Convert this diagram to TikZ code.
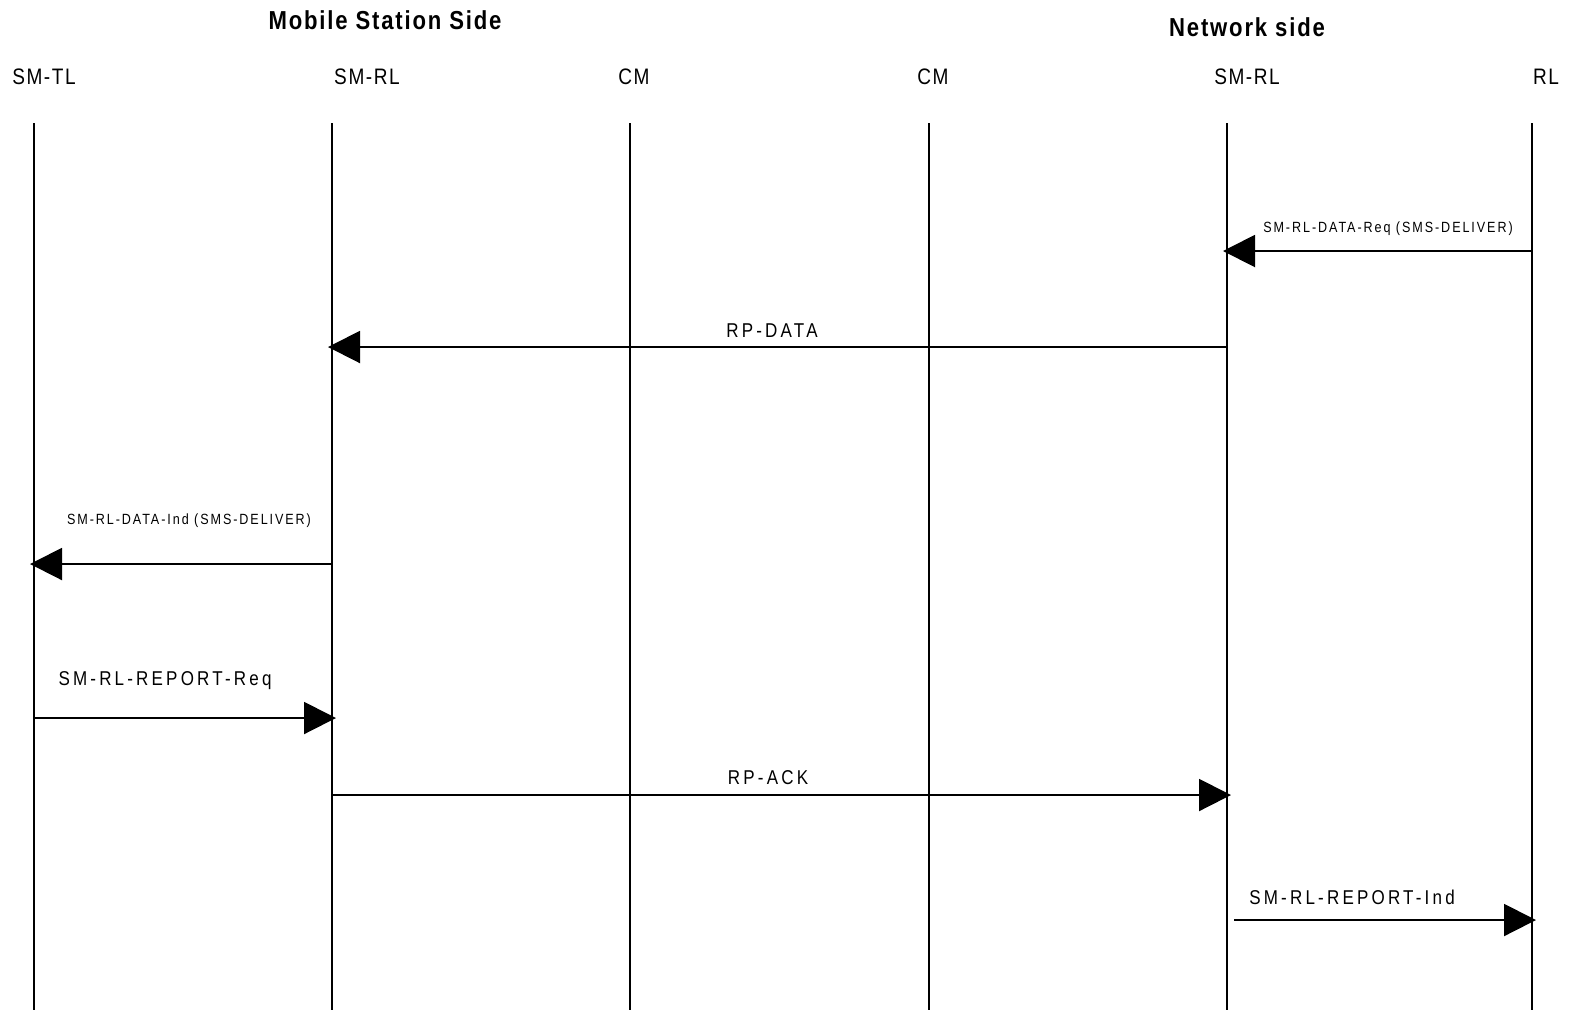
\documentclass[tikz,border=0pt]{standalone}
\usepackage{fontspec}
\setmainfont{Liberation Sans}
\newfontfamily\narrowfont[FakeStretch=0.85,LetterSpace=7]{Liberation Sans}
\newfontfamily\widefont[FakeStretch=0.85,LetterSpace=16]{Liberation Sans}
\newfontfamily\smallfont[FakeStretch=0.85,LetterSpace=13]{Liberation Sans}
\usetikzlibrary{arrows.meta}
\begin{document}
\begin{tikzpicture}[x=0.5pt,y=-0.5pt,
  life/.style={line width=1pt},
  msg/.style={line width=1pt,-{Triangle[length=16pt,width=16pt]},shorten >=-2pt},
  hdr/.style={font=\narrowfont\fontsize{11.2}{13}\selectfont,inner sep=0pt},
  lbl/.style={font=\widefont\fontsize{10}{12}\selectfont,inner sep=0pt},
  small/.style={font=\smallfont\fontsize{7.4}{9}\selectfont,inner sep=0pt},
  title/.style={font=\narrowfont\bfseries\fontsize{13}{16}\selectfont,inner sep=0pt}]
\useasboundingbox (0,0) rectangle (1589,1025);
% titles
\node[title] (ms) at (385,20) {Mobile Station Side};
\node[title] (ns) at (1247,27) {Network side};
% lifeline headers
\node[hdr] (h1) at (44,77) {SM-TL};
\node[hdr] (h2) at (367,77) {SM-RL};
\node[hdr] (h3) at (634,77) {CM};
\node[hdr] (h4) at (933,77) {CM};
\node[hdr] (h5) at (1247,77) {SM-RL};
\node[hdr] (h6) at (1546,77) {RL};
% lifelines
\foreach \n/\x in {a/34,b/332,c/630,d/929,e/1227,f/1532}{
  \coordinate (\n top) at (\x,123);
  \coordinate (\n bot) at (\x,1010);
  \draw[life] (\n top) -- (\n bot);
}
% message end points
\coordinate (m1s) at (1532,251); \coordinate (m1e) at (1227,251);
\coordinate (m2s) at (1227,347); \coordinate (m2e) at (332,347);
\coordinate (m3s) at (332,564);  \coordinate (m3e) at (34,564);
\coordinate (m4s) at (34,718);   \coordinate (m4e) at (332,718);
\coordinate (m5s) at (332,795);  \coordinate (m5e) at (1227,795);
\coordinate (m6s) at (1234,920); \coordinate (m6e) at (1532,920);
\draw[msg] (m1s) -- (m1e);
\draw[msg] (m2s) -- (m2e);
\draw[msg] (m3s) -- (m3e);
\draw[msg] (m4s) -- (m4e);
\draw[msg] (m5s) -- (m5e);
\draw[msg] (m6s) -- (m6e);
% labels
\node[small] (l1) at (1388,229) {SM-RL-DATA-Req (SMS-DELIVER)};
\node[lbl] (l2) at (772,331) {RP-DATA};
\node[small] (l3) at (189,521) {SM-RL-DATA-Ind (SMS-DELIVER)};
\node[lbl] (l4) at (165,681) {SM-RL-REPORT-Req};
\node[lbl] (l5) at (768,778) {RP-ACK};
\node[lbl] (l6) at (1352,897) {SM-RL-REPORT-Ind};
\end{tikzpicture}
\end{document}
